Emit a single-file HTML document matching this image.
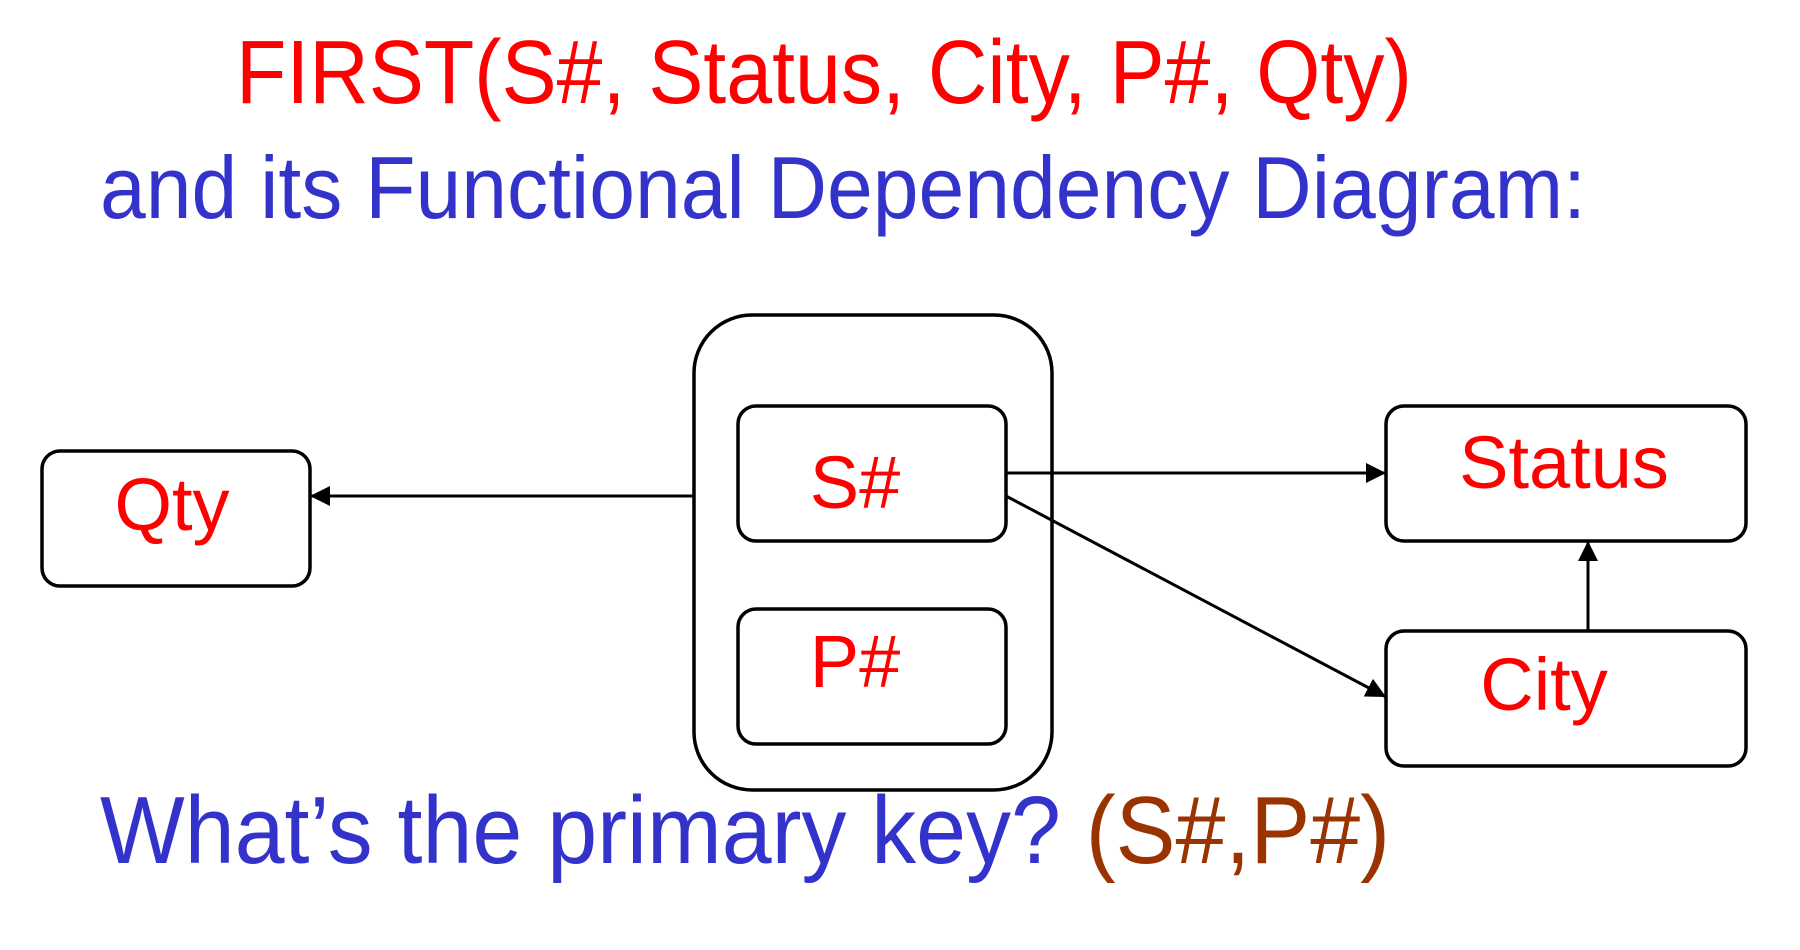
<!DOCTYPE html>
<html><head><meta charset="utf-8"><style>
html,body{margin:0;padding:0;background:#fff;}
svg{display:block;}
text{font-family:"Liberation Sans",Arial,sans-serif;}
</style></head><body>
<svg width="1800" height="950" viewBox="0 0 1800 950">
<defs>
<marker id="ah" viewBox="0 0 10 10" refX="10" refY="5" markerWidth="20" markerHeight="20" markerUnits="userSpaceOnUse" orient="auto">
<path d="M0,0 L10,5 L0,10 z" fill="#000"/>
</marker>
</defs>
<text x="236" y="103" font-size="90" fill="#ff0000" textLength="1176" lengthAdjust="spacingAndGlyphs">FIRST(S#, Status, City, P#, Qty)</text>
<text x="100" y="218" font-size="88" fill="#3333cc" textLength="1486" lengthAdjust="spacingAndGlyphs">and its Functional Dependency Diagram:</text>

<rect x="42" y="451" width="268" height="135" rx="18" fill="none" stroke="#000" stroke-width="3.5"/>
<text x="172" y="530" font-size="74" fill="#ff0000" text-anchor="middle">Qty</text>

<rect x="694" y="315" width="358" height="475" rx="58" fill="none" stroke="#000" stroke-width="3.5"/>
<rect x="738" y="406" width="268" height="135" rx="18" fill="none" stroke="#000" stroke-width="3.5"/>
<text x="855" y="508" font-size="74" fill="#ff0000" text-anchor="middle">S#</text>
<rect x="738" y="609" width="268" height="135" rx="18" fill="none" stroke="#000" stroke-width="3.5"/>
<text x="855" y="687" font-size="74" fill="#ff0000" text-anchor="middle">P#</text>

<rect x="1386" y="406" width="360" height="135" rx="18" fill="none" stroke="#000" stroke-width="3.5"/>
<text x="1564" y="488" font-size="74" fill="#ff0000" text-anchor="middle">Status</text>
<rect x="1386" y="631" width="360" height="135" rx="18" fill="none" stroke="#000" stroke-width="3.5"/>
<text x="1544" y="710" font-size="74" fill="#ff0000" text-anchor="middle">City</text>

<line x1="694" y1="496" x2="310" y2="496" stroke="#000" stroke-width="3" marker-end="url(#ah)"/>
<line x1="1006" y1="473" x2="1386" y2="473" stroke="#000" stroke-width="3" marker-end="url(#ah)"/>
<line x1="1006" y1="496" x2="1386" y2="697" stroke="#000" stroke-width="3" marker-end="url(#ah)"/>
<line x1="1588" y1="631" x2="1588" y2="541" stroke="#000" stroke-width="3" marker-end="url(#ah)"/>

<text x="100" y="863" font-size="96" fill="#3333cc" textLength="1290" lengthAdjust="spacingAndGlyphs">What’s the primary key? <tspan fill="#993300">(S#,P#)</tspan></text>
</svg>
</body></html>
